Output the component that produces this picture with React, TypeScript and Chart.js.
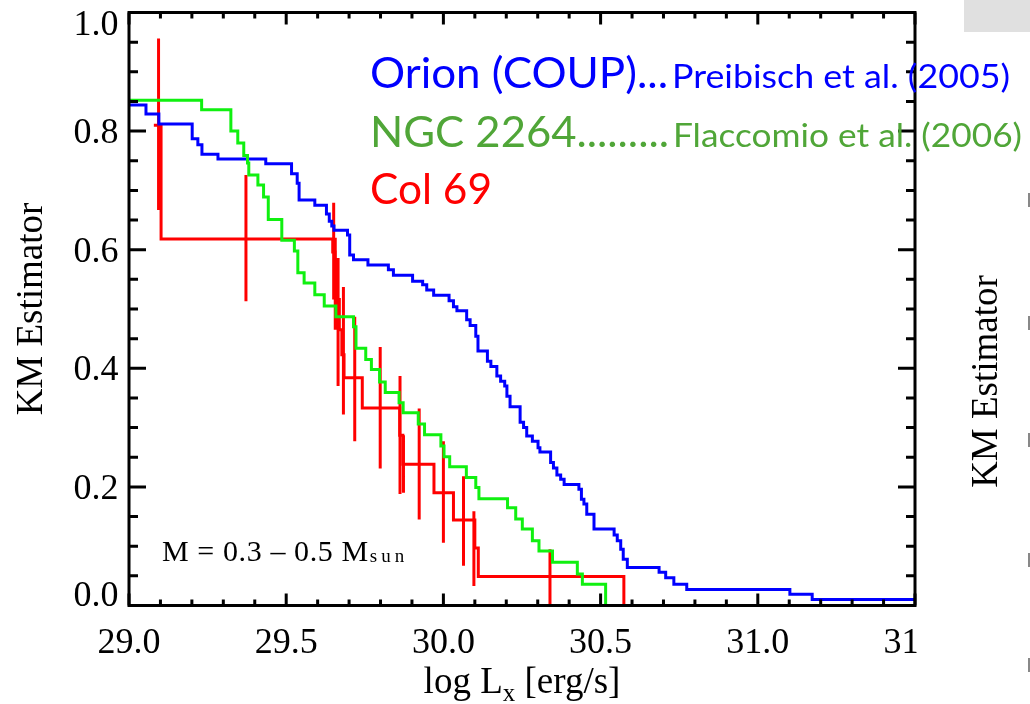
import React, { useEffect, useRef } from 'react';
import { Chart, registerables } from 'chart.js';

Chart.register(...registerables);

// Kaplan–Meier estimators of the X-ray luminosity function, M = 0.3–0.5 Msun.
// Each curve: starting value, then the log Lx of every step and the value after it.

// Orion (COUP), Preibisch et al. (2005)
const orionStart = 0.844;
const orionStepX = [
  29.054, 29.095, 29.201, 29.219, 29.232, 29.283, 29.435, 29.517, 29.535, 29.541,
  29.591, 29.628, 29.637, 29.645, 29.652, 29.695, 29.702, 29.714, 29.760, 29.825,
  29.841, 29.902, 29.934, 29.947, 29.969, 30.018, 30.032, 30.043, 30.074, 30.085,
  30.103, 30.110, 30.140, 30.151, 30.170, 30.182, 30.195, 30.202, 30.212, 30.244,
  30.255, 30.265, 30.283, 30.301, 30.307, 30.341, 30.350, 30.361, 30.373, 30.384,
  30.431, 30.439, 30.447, 30.456, 30.479, 30.543, 30.553, 30.564, 30.572, 30.585,
  30.686, 30.707, 30.733, 30.774, 31.102, 31.173,
];
const orionStepY = [
  0.829, 0.812, 0.787, 0.777, 0.761, 0.753, 0.745, 0.728, 0.712, 0.684,
  0.675, 0.660, 0.648, 0.640, 0.633, 0.625, 0.591, 0.583, 0.574, 0.566,
  0.557, 0.547, 0.541, 0.532, 0.523, 0.514, 0.504, 0.497, 0.482, 0.472,
  0.454, 0.429, 0.412, 0.403, 0.387, 0.378, 0.370, 0.353, 0.335, 0.309,
  0.300, 0.286, 0.277, 0.266, 0.259, 0.241, 0.232, 0.220, 0.213, 0.204,
  0.196, 0.179, 0.171, 0.154, 0.129, 0.119, 0.109, 0.095, 0.078, 0.064,
  0.056, 0.047, 0.036, 0.027, 0.019, 0.010,
];

// NGC 2264, Flaccomio et al. (2006)
const ngcStart = 0.852;
const ngcStepX = [
  29.231, 29.324, 29.346, 29.365, 29.377, 29.381, 29.410, 29.428, 29.443, 29.486,
  29.526, 29.537, 29.557, 29.591, 29.621, 29.658, 29.714, 29.722, 29.753, 29.771,
  29.797, 29.815, 29.859, 29.872, 29.920, 29.940, 29.992, 30.002, 30.020, 30.073,
  30.103, 30.113, 30.204, 30.230, 30.251, 30.283, 30.304, 30.347, 30.426, 30.442,
  30.516,
];
const ngcStepY = [
  0.836, 0.800, 0.780, 0.759, 0.746, 0.726, 0.709, 0.689, 0.651, 0.616,
  0.598, 0.561, 0.544, 0.524, 0.505, 0.487, 0.470, 0.434, 0.415, 0.398,
  0.377, 0.359, 0.342, 0.325, 0.306, 0.288, 0.269, 0.251, 0.234, 0.216,
  0.199, 0.180, 0.165, 0.146, 0.129, 0.109, 0.092, 0.073, 0.053, 0.036,
  0,
];

// Col 69
const colStartX = 29.079;
const colStart = 0.810;
const colStepX = [
  29.102, 29.648, 29.655, 29.661, 29.669, 29.677, 29.684, 29.742, 29.861, 29.871,
  29.970, 30.032, 30.100, 30.111, 30.574,
];
const colStepY = [
  0.618, 0.596, 0.569, 0.516, 0.465, 0.423, 0.384, 0.333, 0.287, 0.238,
  0.190, 0.144, 0.097, 0.049, 0,
];
// Col 69 error bars
const colErrX = [
  29.094, 29.372, 29.651, 29.656, 29.665, 29.682, 29.718, 29.799, 29.862, 29.873,
  29.923, 30.000, 30.064, 30.097, 30.339,
];
const colErrLow = [
  0.667, 0.513, 0.516, 0.465, 0.370, 0.322, 0.277, 0.231, 0.188, 0.190,
  0.145, 0.106, 0.067, 0.033, 0.002,
];
const colErrHigh = [
  0.956, 0.726, 0.679, 0.620, 0.586, 0.537, 0.487, 0.436, 0.387, 0.287,
  0.332, 0.277, 0.218, 0.159, 0.095,
];

// Axes
const X_MIN = 29.0;
const X_MAX = 31.5;
const Y_MIN = 0;
const Y_MAX = 1;
const xTickValues = [29.0, 29.5, 30.0, 30.5, 31.0, 31.5];
const xTickLabels = ['29.0', '29.5', '30.0', '30.5', '31.0', '31.5'];
const yTickValues = [0, 0.2, 0.4, 0.6, 0.8, 1.0];
const yTickLabels = ['0.0', '0.2', '0.4', '0.6', '0.8', '1.0'];
const X_MINOR = 0.1;
const Y_MINOR = 0.05;

// Legend text
const legendNames = ['Orion (COUP)...', 'NGC 2264.........', 'Col 69'];
const legendRefs = ['Preibisch et al. (2005)', 'Flaccomio et al. (2006)', ''];

const BLUE = '#0000ff';
const GREEN = '#10f010';
const RED = '#ff0000';
const GREEN_TEXT = '#50a638';
const SERIF = '"Liberation Serif", "Times New Roman", serif';
const SANS = 'Lato, Carlito, Calibri, "Open Sans", sans-serif';

function stepPoints(x0: number, y0: number, xs: number[], ys: number[], xEnd?: number) {
  const pts: { x: number; y: number }[] = [{ x: x0, y: y0 }];
  xs.forEach((x, i) => pts.push({ x, y: ys[i] }));
  if (xEnd !== undefined) pts.push({ x: xEnd, y: ys[ys.length - 1] });
  return pts;
}

function errorBarPoints(xs: number[], lo: number[], hi: number[]) {
  const pts: { x: number; y: number | null }[] = [];
  xs.forEach((x, i) => {
    pts.push({ x, y: lo[i] });
    pts.push({ x, y: hi[i] });
    pts.push({ x, y: null });
  });
  return pts;
}

function fitText(
  ctx: CanvasRenderingContext2D,
  text: string,
  x: number,
  baseline: number,
  width: number,
  font: string,
  color: string,
) {
  if (!text) return;
  ctx.save();
  ctx.font = font;
  const w = ctx.measureText(text).width;
  ctx.translate(x, baseline);
  ctx.scale(width / w, 1);
  ctx.fillStyle = color;
  ctx.textAlign = 'left';
  ctx.textBaseline = 'alphabetic';
  ctx.fillText(text, 0, 0);
  ctx.restore();
}

const framePlugin = {
  id: 'kmFrame',
  afterDatasetsDraw(chart: any) {
    const { ctx, chartArea: a } = chart;
    const sx = chart.scales.x;
    const sy = chart.scales.y;
    ctx.save();
    ctx.strokeStyle = '#000';
    ctx.lineWidth = 3;
    ctx.lineCap = 'butt';

    // tick marks on all four sides, pointing inward
    ctx.beginPath();
    const nx = Math.round((X_MAX - X_MIN) / X_MINOR);
    for (let i = 0; i <= nx; i++) {
      const px = sx.getPixelForValue(X_MIN + i * X_MINOR);
      const len = i % 5 === 0 ? 12 : 6;
      ctx.moveTo(px, a.bottom);
      ctx.lineTo(px, a.bottom - len);
      ctx.moveTo(px, a.top);
      ctx.lineTo(px, a.top + len);
    }
    const ny = Math.round((Y_MAX - Y_MIN) / Y_MINOR);
    for (let i = 0; i <= ny; i++) {
      const py = sy.getPixelForValue(Y_MIN + i * Y_MINOR);
      const len = i % 4 === 0 ? 17 : 9;
      ctx.moveTo(a.left, py);
      ctx.lineTo(a.left + len, py);
      ctx.moveTo(a.right, py);
      ctx.lineTo(a.right - len, py);
    }
    ctx.stroke();
    ctx.strokeRect(a.left, a.top, a.right - a.left, a.bottom - a.top);

    // tick labels
    ctx.fillStyle = '#000';
    ctx.font = `36px ${SERIF}`;
    ctx.textBaseline = 'alphabetic';
    ctx.textAlign = 'center';
    ctx.save();
    ctx.beginPath();
    ctx.rect(0, a.bottom + 2, a.right + 1.5, 200);
    ctx.clip();
    xTickValues.forEach((v, i) => {
      ctx.fillText(xTickLabels[i], sx.getPixelForValue(v), 653);
    });
    ctx.restore();

    ctx.textAlign = 'right';
    yTickValues.forEach((v, i) => {
      const py = sy.getPixelForValue(v);
      let base = py + 12;
      base = Math.max(base, a.top + 22.5);
      base = Math.min(base, a.bottom);
      ctx.fillText(yTickLabels[i], 118.5, base);
    });

    // x axis title with subscript
    ctx.textAlign = 'left';
    const t1 = 'log L';
    const t2 = 'x';
    const t3 = ' [erg/s]';
    ctx.font = `37px ${SERIF}`;
    const w1 = ctx.measureText(t1).width;
    const w3 = ctx.measureText(t3).width;
    ctx.font = `25px ${SERIF}`;
    const w2 = ctx.measureText(t2).width;
    let x0 = (a.left + a.right) / 2 - (w1 + w2 + w3) / 2;
    ctx.font = `37px ${SERIF}`;
    ctx.fillText(t1, x0, 693);
    x0 += w1;
    ctx.font = `25px ${SERIF}`;
    ctx.fillText(t2, x0, 701);
    x0 += w2;
    ctx.font = `37px ${SERIF}`;
    ctx.fillText(t3, x0, 693);

    // y axis title
    ctx.save();
    ctx.translate(42, (a.top + a.bottom) / 2);
    ctx.rotate(-Math.PI / 2);
    ctx.textAlign = 'center';
    ctx.font = `37px ${SERIF}`;
    ctx.fillText('KM Estimator', 0, 0);
    ctx.restore();

    // mass range note
    ctx.textAlign = 'left';
    ctx.font = `30px ${SERIF}`;
    (ctx as any).letterSpacing = '0.6px';
    const note = 'M = 0.3 \u2013 0.5 M';
    ctx.fillText(note, 162, 561);
    const wn = ctx.measureText(note).width;
    ctx.font = `19px ${SERIF}`;
    (ctx as any).letterSpacing = '4px';
    ctx.fillText('sun', 162 + wn + 1, 562);
    (ctx as any).letterSpacing = '0px';
    ctx.restore();
  },
  afterDraw(chart: any) {
    const ctx: CanvasRenderingContext2D = chart.ctx;
    ctx.save();

    // neighbouring panel at the right edge
    ctx.fillStyle = '#e0e0e0';
    ctx.fillRect(964, 0, 66, 32);
    ctx.fillStyle = '#888';
    [200, 323, 440, 560, 665].forEach((y) => ctx.fillRect(1028, y - 7, 2, 14));
    ctx.fillStyle = '#000';
    ctx.translate(997, 381.5);
    ctx.rotate(-Math.PI / 2);
    ctx.textAlign = 'center';
    ctx.textBaseline = 'alphabetic';
    ctx.font = `37px ${SERIF}`;
    ctx.fillText('KM Estimator', 0, 0);
    ctx.restore();

    // legend
    fitText(ctx, legendNames[0], 370, 87.5, 298, `43px ${SANS}`, BLUE);
    fitText(ctx, legendRefs[0], 672, 87.5, 338, `33.5px ${SANS}`, BLUE);
    fitText(ctx, legendNames[1], 370, 146.5, 299, `43px ${SANS}`, GREEN_TEXT);
    fitText(ctx, legendRefs[1], 673, 146.5, 349, `33.5px ${SANS}`, GREEN_TEXT);
    fitText(ctx, legendNames[2], 370, 204, 122, `43px ${SANS}`, RED);
  },
};

export default function App() {
  const canvasRef = useRef<HTMLCanvasElement | null>(null);

  useEffect(() => {
    document.body.style.margin = '0';
    const canvas = canvasRef.current;
    if (!canvas) return;

    const lineBase = {
      pointRadius: 0,
      pointHoverRadius: 0,
      tension: 0,
      fill: false,
      borderCapStyle: 'butt' as const,
      borderJoinStyle: 'miter' as const,
    };

    const chart = new Chart(canvas, {
      type: 'line',
      data: {
        datasets: [
          {
            ...lineBase,
            label: 'NGC 2264',
            data: stepPoints(X_MIN, ngcStart, ngcStepX, ngcStepY),
            borderColor: GREEN,
            borderWidth: 3,
            stepped: 'before',
          },
          {
            ...lineBase,
            label: 'Orion (COUP)',
            data: stepPoints(X_MIN, orionStart, orionStepX, orionStepY, X_MAX),
            borderColor: BLUE,
            borderWidth: 3,
            stepped: 'before',
          },
          {
            ...lineBase,
            label: 'Col 69',
            data: stepPoints(colStartX, colStart, colStepX, colStepY),
            borderColor: RED,
            borderWidth: 3,
            stepped: 'before',
          },
          {
            ...lineBase,
            label: 'Col 69 errors',
            data: errorBarPoints(colErrX, colErrLow, colErrHigh),
            borderColor: RED,
            borderWidth: 3,
            spanGaps: false,
          },
        ],
      } as any,
      options: {
        responsive: false,
        maintainAspectRatio: false,
        animation: false,
        devicePixelRatio: 1,
        layout: { padding: { left: 129, right: 115, top: 12.5, bottom: 98.5 } },
        plugins: {
          legend: { display: false },
          tooltip: { enabled: false },
        },
        events: [],
        scales: {
          x: { type: 'linear', min: X_MIN, max: X_MAX, display: false },
          y: { type: 'linear', min: Y_MIN, max: Y_MAX, display: false },
        },
      },
      plugins: [framePlugin],
    });

    return () => chart.destroy();
  }, []);

  return (
    <div style={{ width: 1030, height: 704, background: '#fff', overflow: 'hidden' }}>
      <canvas ref={canvasRef} width={1030} height={704} style={{ display: 'block' }} />
    </div>
  );
}
